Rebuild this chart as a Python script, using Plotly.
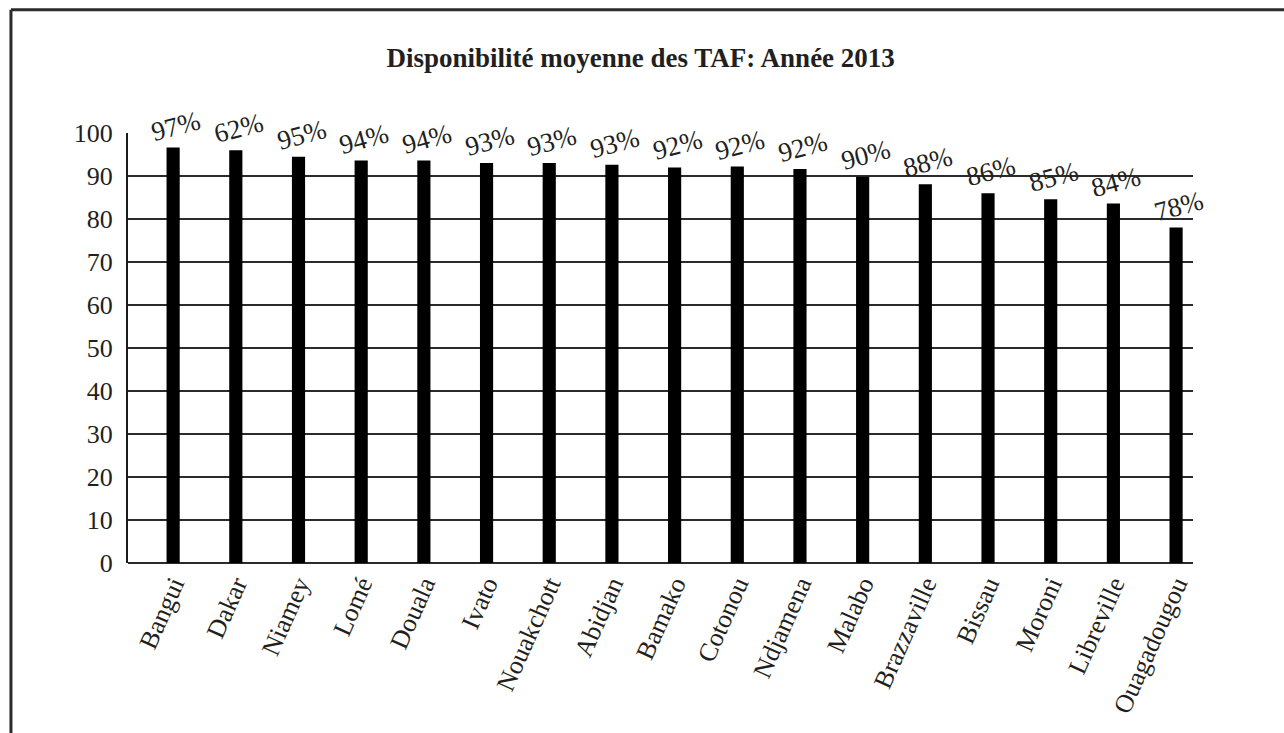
import plotly.graph_objects as go

# Average availability of the TAF per station, year 2013
stations = ["Bangui", "Dakar", "Niamey", "Lomé", "Douala", "Ivato", "Nouakchott",
            "Abidjan", "Bamako", "Cotonou", "Ndjamena", "Malabo", "Brazzaville",
            "Bissau", "Moroni", "Libreville", "Ouagadougou"]
availability = [96.6, 96.0, 94.5, 93.6, 93.6, 93.0, 93.0,
                92.6, 92.0, 92.2, 91.6, 89.8, 88.1,
                86.0, 84.6, 83.6, 78.0]
# Value labels as printed on the chart
value_labels = ["97%", "62%", "95%", "94%", "94%", "93%", "93%",
                "93%", "92%", "92%", "92%", "90%", "88%",
                "86%", "85%", "84%", "78%"]
y_ticks = [0, 10, 20, 30, 40, 50, 60, 70, 80, 90, 100]

FONT = "Liberation Serif"
INK = "#231f20"

fig = go.Figure()
fig.add_trace(go.Bar(
    x=stations, y=availability, width=0.21,
    marker=dict(color="#000000", line=dict(width=0)),
    hoverinfo="x+y",
))

for name, val, lab in zip(stations, availability, value_labels):
    fig.add_annotation(
        x=name, y=val, text=lab, showarrow=False, textangle=-15,
        yshift=22, xshift=3, font=dict(family=FONT, size=27, color=INK),
    )

# Outer frame (top and left edges)
fig.add_shape(type="line", xref="paper", yref="paper", x0=-0.1099, x1=1.2,
              y0=1.2867, y1=1.2867, line=dict(color="#2b2b2b", width=3))
fig.add_shape(type="line", xref="paper", yref="paper", x0=-0.1099, x1=-0.1099,
              y0=1.2867, y1=-0.6, line=dict(color="#2b2b2b", width=3))

fig.update_layout(
    width=1284, height=733,
    margin=dict(l=128, r=91, t=133, b=170),
    paper_bgcolor="white", plot_bgcolor="white",
    showlegend=False,
    title=dict(text="<b>Disponibilité moyenne des TAF: Année 2013</b>",
               x=0.499, xanchor="center", y=0.921, yanchor="middle",
               font=dict(family=FONT, size=27, color=INK)),
    xaxis=dict(type="category", range=[-0.72, 16.27], tickangle=-66,
               showgrid=False, showline=False, ticks="",
               tickfont=dict(family=FONT, size=26, color=INK)),
    yaxis=dict(range=[0, 100], tickvals=y_ticks, showgrid=True,
               gridcolor="#2b2b2b", gridwidth=2, zeroline=True,
               zerolinecolor="#2b2b2b", zerolinewidth=2,
               showline=True, linecolor="#1a1a1a", linewidth=2,
               ticks="", ticklabelstandoff=8,
               tickfont=dict(family=FONT, size=26, color=INK)),
)

fig.write_html("out.html")
